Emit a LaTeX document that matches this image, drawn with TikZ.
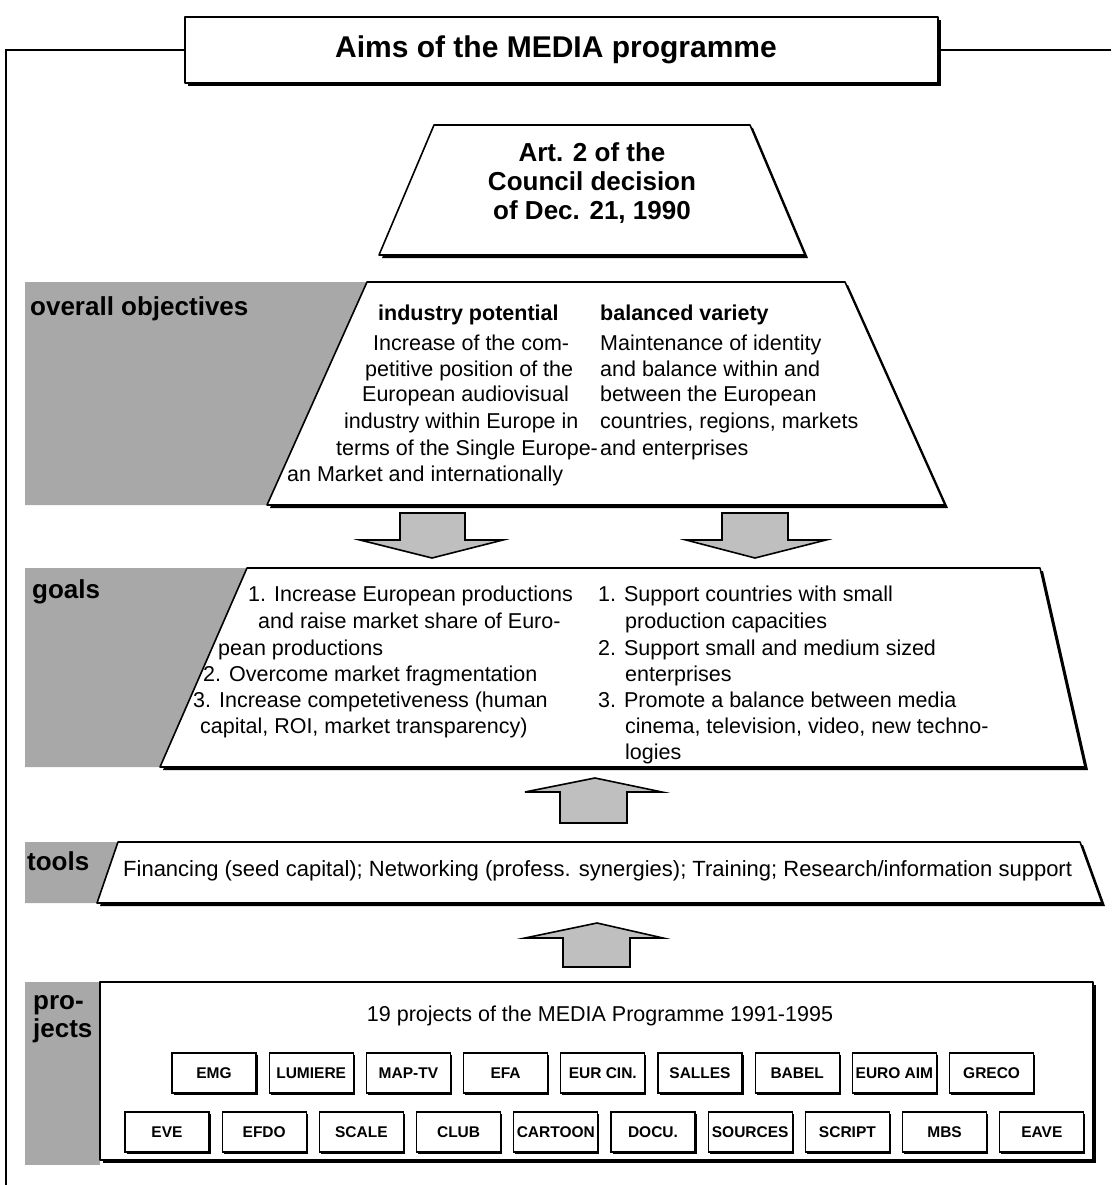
\documentclass[tikz,border=0pt]{standalone}
\usepackage{fontspec}
\setmainfont{Liberation Sans}
\newcommand\bodyf{\fontsize{21.5}{26}\selectfont}
\newcommand\toolf{\fontsize{22}{26}\selectfont}
\newcommand\labf{\fontsize{26}{28}\selectfont\bfseries}
\newcommand\boxf{\fontsize{15.5}{18}\selectfont\bfseries}
\newcommand\artf{\fontsize{26}{29}\selectfont\bfseries}
\newcommand\titf{\fontsize{30}{34}\selectfont\bfseries}
\begin{document}
\begin{tikzpicture}[x=1pt,y=-1pt,
  shadezone/.style={fill=black!34,draw=none},
  outl/.style={draw=black,line width=1.6pt,fill=white,line join=round},
  shad/.style={preaction={fill=black,transform canvas={shift={(3pt,-3pt)}}}},
  smallshad/.style={preaction={fill=black,transform canvas={shift={(1.5pt,-1.5pt)}}}},
  blockarrow/.style={draw=black,line width=1.6pt,fill=black!25,line join=miter},
  txt/.style={inner sep=0pt,font=\bodyf,anchor=base west},
  lab/.style={inner sep=0pt,font=\labf,anchor=base west},
  pbox/.style={draw=black,line width=1.3pt,fill=white,inner sep=0pt,
    minimum width=84pt,minimum height=40pt,font=\boxf,smallshad}
]
\useasboundingbox (0,0) rectangle (1111,1185);
\fill[white] (0,0) rectangle (1111,1185);

% frame
\coordinate (fl) at (6,50);
\coordinate (fb) at (6,1185);
\coordinate (fr) at (1111,50);

% title
\draw[outl,shad] (185,17) rectangle (938,83);
\node[font=\titf,inner sep=0pt] (title) at (556,50) {Aims of the MEDIA programme};
\draw[line width=1.6pt] (fb) -- (fl) -- (185,50);
\draw[line width=1.6pt] (938,50) -- (fr);

% Art. 2 trapezoid
\draw[outl,shad] (434,125) -- (750,125) -- (805,255) -- (379,255) -- cycle;
\node[font=\artf,align=center,inner sep=0pt] (art) at (592,183)
  {Art. 2 of the\\Council decision\\of Dec. 21, 1990};

% shaded label zones
\fill[shadezone] (25,282) -- (367,282) -- (267,505) -- (25,505) -- cycle;
\fill[shadezone] (25,568) -- (247,568) -- (160,767) -- (25,767) -- cycle;
\fill[shadezone] (25,842) -- (118,842) -- (97,903) -- (25,903) -- cycle;
\fill[shadezone] (25,982) -- (100,982) -- (100,1165) -- (25,1165) -- cycle;

\node[lab] (lobj) at (30,315) {overall objectives};
\node[lab] (lgoal) at (32,598) {goals};
\node[lab] (ltool) at (27,870) {tools};
\node[lab] (lpro) at (33,1009) {pro-};
\node[lab] (ljec) at (33,1037) {jects};

% overall objectives trapezoid
\draw[outl,shad] (367,282) -- (845,282) -- (945,505) -- (267,505) -- cycle;
\node[txt] (o1) at (378,320) {\bfseries industry potential};
\node[txt] (o2) at (373,350) {Increase of the com-};
\node[txt] (o3) at (365,376) {petitive position of the};
\node[txt] (o4) at (362,401) {European audiovisual};
\node[txt] (o5) at (344,428) {industry within Europe in};
\node[txt] (o6) at (336,455) {terms of the Single Europe-};
\node[txt] (o7) at (287,481) {an Market and internationally};
\node[txt] (p1) at (600,320) {\bfseries balanced variety};
\node[txt] (p2) at (600,350) {Maintenance of identity};
\node[txt] (p3) at (600,376) {and balance within and};
\node[txt] (p4) at (600,401) {between the European};
\node[txt] (p5) at (600,428) {countries, regions, markets};
\node[txt] (p6) at (600,455) {and enterprises};

% down arrows
\draw[blockarrow] (400,513) -- (465,513) -- (465,540) -- (503,540) -- (432,558) -- (360,540) -- (400,540) -- cycle;
\draw[blockarrow] (722,513) -- (788,513) -- (788,540) -- (826,540) -- (755,558) -- (686,540) -- (722,540) -- cycle;

% goals trapezoid
\draw[outl,shad] (247,568) -- (1040,568) -- (1085,767) -- (160,767) -- cycle;
\node[txt] (g1) at (248,601) {1. Increase European productions};
\node[txt] (g2) at (258,628) {and raise market share of Euro-};
\node[txt] (g3) at (218,655) {pean productions};
\node[txt] (g4) at (203,681) {2. Overcome market fragmentation};
\node[txt] (g5) at (193,707) {3. Increase competetiveness (human};
\node[txt] (g6) at (200,733) {capital, ROI, market transparency)};
\node[txt] (h1) at (598,601) {1. Support countries with small};
\node[txt] (h2) at (625,628) {production capacities};
\node[txt] (h3) at (598,655) {2. Support small and medium sized};
\node[txt] (h4) at (625,681) {enterprises};
\node[txt] (h5) at (598,707) {3. Promote a balance between media};
\node[txt] (h6) at (625,733) {cinema, television, video, new techno-};
\node[txt] (h7) at (625,759) {logies};

% up arrow 1
\draw[blockarrow] (560,823) -- (627,823) -- (627,792) -- (662,792) -- (595,778) -- (525,792) -- (560,792) -- cycle;

% tools trapezoid
\draw[outl,shad] (118,842) -- (1080,842) -- (1102,903) -- (97,903) -- cycle;
\node[txt,font=\toolf] (tools) at (123,876) {Financing (seed capital); Networking (profess. synergies); Training; Research/information support};

% up arrow 2
\draw[blockarrow] (563,967) -- (630,967) -- (630,938) -- (663,938) -- (597,923) -- (525,938) -- (563,938) -- cycle;

% projects box
\draw[outl,shad] (100,982) rectangle (1093,1160);
\node[font=\bodyf,inner sep=0pt,anchor=base] (ptitle) at (600,1021) {19 projects of the MEDIA Programme 1991-1995};

\foreach \t [count=\i] in {EMG,LUMIERE,MAP-TV,EFA,EUR CIN.,SALLES,BABEL,EURO AIM,GRECO}
  \node[pbox] (ra\i) at ({214+(\i-1)*97.2},1073) {\t};
\foreach \t [count=\i] in {EVE,EFDO,SCALE,CLUB,CARTOON,DOCU.,SOURCES,SCRIPT,MBS,EAVE}
  \node[pbox] (rb\i) at ({167+(\i-1)*97.2},1132) {\t};
\end{tikzpicture}
\end{document}
